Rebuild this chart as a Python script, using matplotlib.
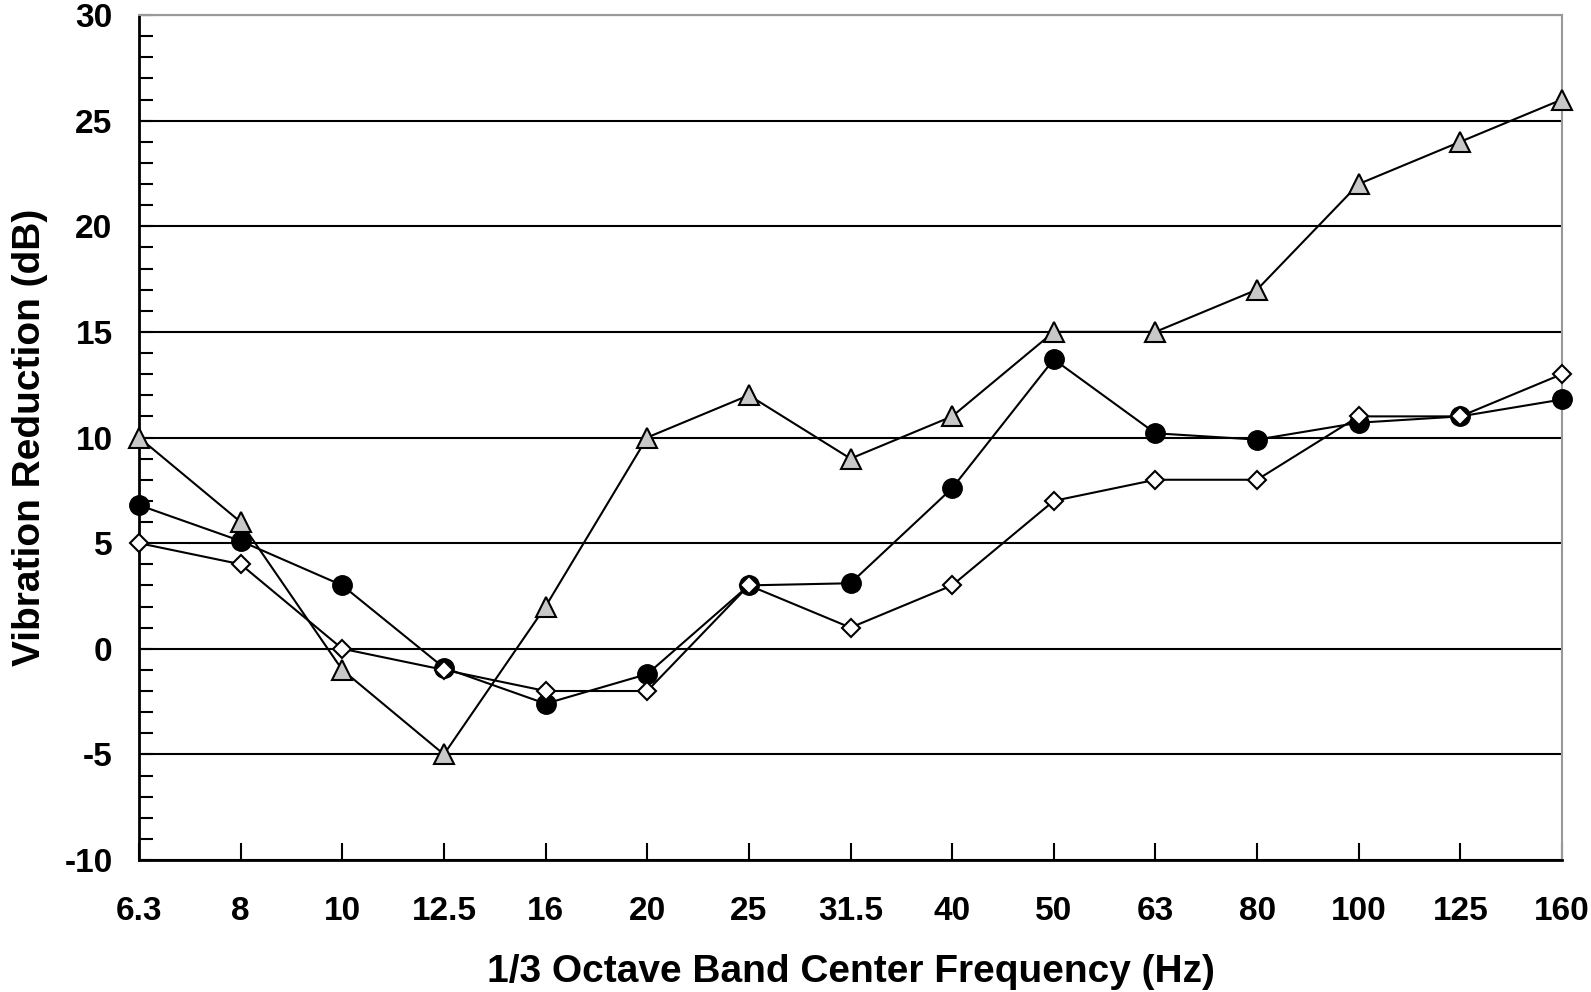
import numpy as np
import matplotlib.pyplot as plt
from matplotlib.ticker import MultipleLocator

# 1/3 octave band centre frequencies (Hz)
freqs = ["6.3", "8", "10", "12.5", "16", "20", "25", "31.5", "40", "50",
         "63", "80", "100", "125", "160"]

# vibration reduction (dB)
tri_vals = [10, 6, -1, -5, 2, 10, 12, 9, 11, 15, 15, 17, 22, 24, 26]
dot_vals = [6.8, 5.1, 3.0, -0.9, -2.6, -1.2, 3.0, 3.1, 7.6, 13.7, 10.2, 9.9, 10.7, 11.0, 11.8]
dia_vals = [5, 4, 0, -1, -2, -2, 3, 1, 3, 7, 8, 8, 11, 11, 13]

plt.rcParams['font.family'] = ['Liberation Sans', 'DejaVu Sans']
plt.rcParams['font.weight'] = 'bold'
plt.rcParams['axes.unicode_minus'] = False

fig = plt.figure(figsize=(15.91, 9.92), dpi=100)
ax = fig.add_axes([139 / 1591, 1 - 860 / 992, (1562 - 139) / 1591, (860 - 15) / 992])

x = np.arange(len(freqs))
ax.plot(x, tri_vals, color='black', lw=1.5, marker='^', ms=14,
        mfc='#c8c8c8', mec='black', mew=1.5, zorder=3, clip_on=False)
ax.plot(x, dot_vals, color='black', lw=1.5, marker='o', ms=14,
        mfc='black', mec='black', zorder=4, clip_on=False)
ax.plot(x, dia_vals, color='black', lw=1.5, marker='D', ms=9,
        mfc='white', mec='black', mew=1.5, zorder=5, clip_on=False)

ax.set_xlim(0, len(freqs) - 1)
ax.set_ylim(-10, 30)
ax.set_xticks(x)
ax.set_xticklabels(freqs)
ax.yaxis.set_major_locator(MultipleLocator(5))
ax.yaxis.set_minor_locator(MultipleLocator(1))

ax.grid(axis='y', color='black', lw=1.5, zorder=1)
ax.set_axisbelow(True)
glines = ax.yaxis.get_gridlines()
glines[0].set_visible(False)
glines[-1].set_visible(False)

ax.tick_params(axis='both', which='both', direction='in', width=1.5, colors='black')
ax.tick_params(axis='x', length=12, pad=26, labelsize=24)
ax.tick_params(axis='y', which='major', length=10, pad=19, labelsize=24)
ax.tick_params(axis='y', which='minor', length=10)

for s in ['left', 'bottom']:
    ax.spines[s].set_linewidth(2)
    ax.spines[s].set_color('black')
for s in ['top', 'right']:
    ax.spines[s].set_linewidth(1.5)
    ax.spines[s].set_color('#999999')

ax.set_xlabel('1/3 Octave Band Center Frequency (Hz)', fontsize=28, fontweight='bold', labelpad=19)
ax.set_ylabel('Vibration Reduction (dB)', fontsize=28, fontweight='bold', labelpad=12)

fig.savefig('out.png', dpi=100)
